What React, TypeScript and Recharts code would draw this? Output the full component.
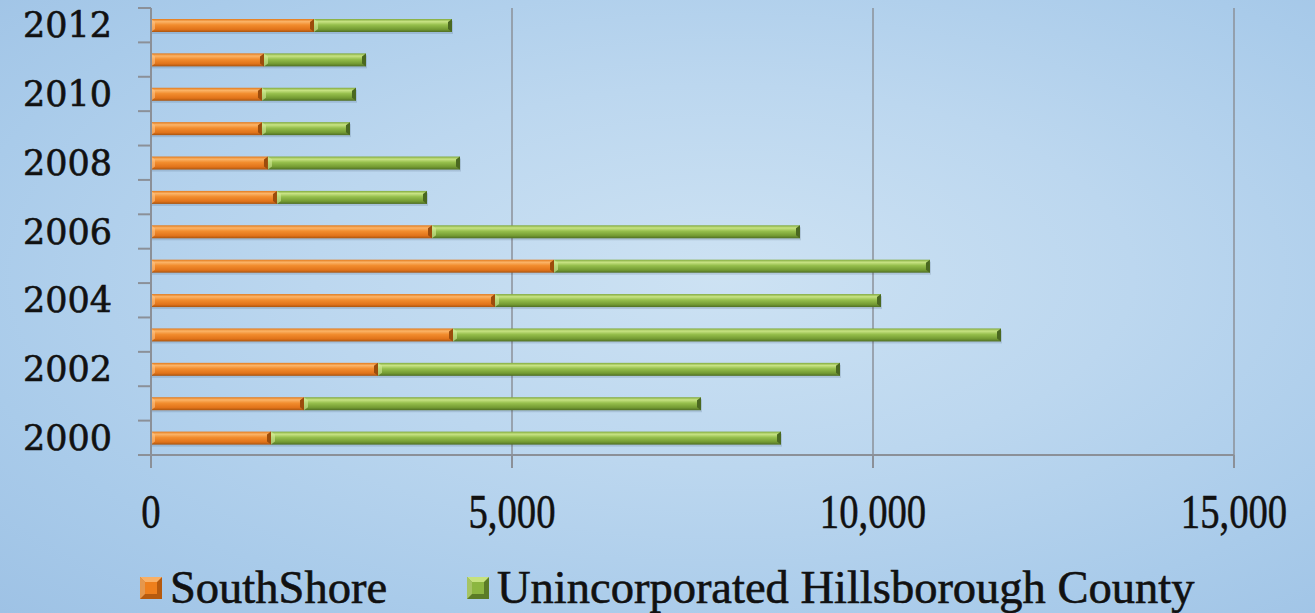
import { Bar, BarChart, CartesianGrid, Legend, XAxis, YAxis } from 'recharts'

const years = ['2000', '2001', '2002', '2003', '2004', '2005', '2006', '2007', '2008', '2009', '2010', '2011', '2012']
const southShore = [1662, 2119, 3144, 4183, 4765, 5582, 3892, 1745, 1620, 1537, 1537, 1565, 2258]
const unincorporated = [7064, 5499, 6399, 7590, 5346, 5207, 5097, 2078, 2660, 1219, 1302, 1413, 1911]
const xTicks = [0, 5000, 10000, 15000]

const data = years.map((year, i) => ({
  year,
  southShore: southShore[i],
  unincorporated: unincorporated[i],
}))

const axisGray = '#8b9098'
const serif = '"Liberation Serif", serif'

function BevelBar(props: any) {
  const { x, y, width, height, gradId, dark, light } = props
  if (!width || width <= 0) return null
  const b = Math.min(4, width / 2)
  return (
    <g>
      <rect x={x + 1} y={y + 2} width={width} height={height} fill="#1b3350" opacity={0.14} />
      <rect x={x} y={y} width={width} height={height} fill={`url(#${gradId})`} />
      <polygon
        points={`${x},${y} ${x + b},${y + 3} ${x + b},${y + height - 3} ${x},${y + height}`}
        fill={light}
        opacity={0.6}
      />
      <polygon
        points={`${x + width - b},${y + 3} ${x + width},${y} ${x + width},${y + height} ${x + width - b},${y + height - 3}`}
        fill={dark}
      />
    </g>
  )
}

function YearTick(props: any) {
  const { x, y, payload, index } = props
  const half = payload.offset || 17.2
  return (
    <g>
      <line x1={x - 13} x2={x} y1={y + half} y2={y + half} stroke={axisGray} strokeWidth={2} />
      {index === years.length - 1 && (
        <line x1={x - 13} x2={x} y1={y - half} y2={y - half} stroke={axisGray} strokeWidth={2} />
      )}
      {index % 2 === 0 && (
        <text
          x={x - 39}
          y={y}
          textAnchor="end"
          dominantBaseline="central"
          fontFamily='"DejaVu Serif", serif'
          fontSize={35}
          fill="#111"
          stroke="#111"
          strokeWidth={0.6}
        >
          {payload.value}
        </text>
      )}
    </g>
  )
}

function ValueTick(props: any) {
  const { x, y, payload } = props
  return (
    <text
      transform={`translate(${x},${y + 60}) scale(0.79,1)`}
      textAnchor="middle"
      fontFamily={serif}
      fontSize={49}
      fill="#111"
      stroke="#111"
      strokeWidth={0.5}
    >
      {payload.value.toLocaleString('en-US')}
    </text>
  )
}

function Marker({ color, light, dark }: { color: string; light: string; dark: string }) {
  return (
    <svg width={22} height={22} style={{ display: 'block' }}>
      <rect x={0} y={0} width={22} height={22} fill={dark} />
      <polygon points="0,0 22,0 17,5 5,5" fill={light} />
      <polygon points="0,0 5,5 5,17 0,22" fill={light} opacity={0.7} />
      <rect x={5} y={5} width={12} height={12} fill={color} />
    </svg>
  )
}

function LegendContent() {
  return (
    <div
      style={{
        display: 'flex',
        alignItems: 'center',
        height: 50,
        paddingLeft: 140,
        fontFamily: serif,
        fontSize: 46.5,
        color: '#111',
        lineHeight: '50px',
        WebkitTextStroke: '0.6px #111',
      }}
    >
      <Marker color="#ee7f1c" light="#f9b066" dark="#b65a0e" />
      <span style={{ marginLeft: 8, marginRight: 80 }}>SouthShore</span>
      <Marker color="#8cb640" light="#c6e27e" dark="#5b7c26" />
      <span style={{ marginLeft: 8 }}>Unincorporated Hillsborough County</span>
    </div>
  )
}

export default function App() {
  return (
    <div
      style={{
        position: 'absolute',
        left: 0,
        top: 0,
        width: 1315,
        height: 613,
        background:
          'radial-gradient(ellipse at 55% 45%, #cde2f3 0%, #bcd7ef 40%, #a9cbea 75%, #9ec2e5 100%)',
      }}
    >
      <BarChart
        width={1315}
        height={613}
        data={data}
        layout="vertical"
        margin={{ top: 8, right: 81, left: 0, bottom: 0 }}
        barSize={13}
      >
        <defs>
          <linearGradient id="gradOrange" x1="0" y1="0" x2="0" y2="1">
            <stop offset="0%" stopColor="#e27818" />
            <stop offset="20%" stopColor="#fbb468" />
            <stop offset="45%" stopColor="#f28d2e" />
            <stop offset="80%" stopColor="#e1731a" />
            <stop offset="100%" stopColor="#a95510" />
          </linearGradient>
          <linearGradient id="gradGreen" x1="0" y1="0" x2="0" y2="1">
            <stop offset="0%" stopColor="#7fa83a" />
            <stop offset="20%" stopColor="#c8e384" />
            <stop offset="45%" stopColor="#96bf4c" />
            <stop offset="80%" stopColor="#739a32" />
            <stop offset="100%" stopColor="#4f6e24" />
          </linearGradient>
        </defs>
        <CartesianGrid horizontal={false} stroke={axisGray} strokeWidth={1.5} />
        <XAxis
          type="number"
          domain={[0, 15000]}
          ticks={xTicks}
          height={108}
          tickSize={13}
          tickMargin={0}
          tickLine={{ stroke: axisGray, strokeWidth: 2 }}
          axisLine={{ stroke: axisGray, strokeWidth: 2 }}
          tick={<ValueTick />}
          interval={0}
        />
        <YAxis
          type="category"
          dataKey="year"
          reversed
          width={151}
          interval={0}
          tickSize={0}
          tickMargin={0}
          tickLine={false}
          axisLine={{ stroke: axisGray, strokeWidth: 2 }}
          tick={<YearTick />}
        />
        <Legend
          verticalAlign="bottom"
          align="left"
          height={50}
          wrapperStyle={{ left: 0, width: 1315, height: 50 }}
          content={<LegendContent />}
        />
        <Bar
          dataKey="southShore"
          name="SouthShore"
          stackId="a"
          fill="#ee7f1c"
          isAnimationActive={false}
          shape={(p: any) => <BevelBar {...p} gradId="gradOrange" dark="#9c4c0c" light="#fcc58a" />}
        />
        <Bar
          dataKey="unincorporated"
          name="Unincorporated Hillsborough County"
          stackId="a"
          fill="#8cb640"
          isAnimationActive={false}
          shape={(p: any) => <BevelBar {...p} gradId="gradGreen" dark="#4a6820" light="#d4eb9a" />}
        />
      </BarChart>
    </div>
  )
}
